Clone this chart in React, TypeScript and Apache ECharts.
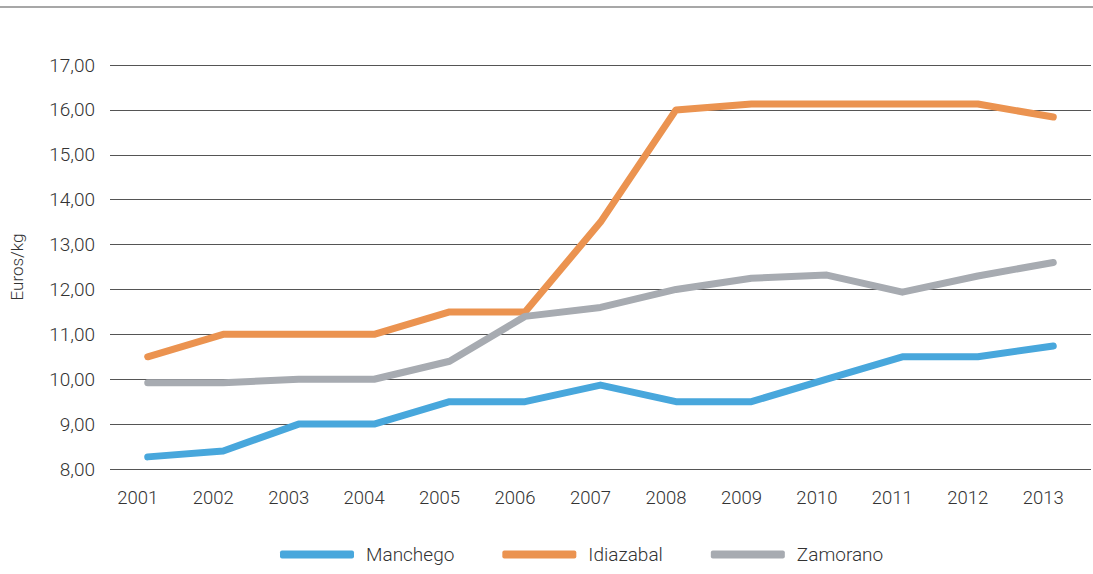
import React, { useEffect, useRef } from "react";
import * as echarts from "echarts";

const years = ["2001","2002","2003","2004","2005","2006","2007","2008","2009","2010","2011","2012","2013"];
const manchego = [8.27, 8.4, 9.0, 9.0, 9.5, 9.5, 9.87, 9.5, 9.5, 10.0, 10.5, 10.5, 10.74];
const idiazabal = [10.5, 11.0, 11.0, 11.0, 11.5, 11.5, 13.5, 16.0, 16.13, 16.13, 16.13, 16.13, 15.84];
const zamorano = [9.92, 9.92, 10.0, 10.0, 10.4, 11.4, 11.6, 12.0, 12.25, 12.32, 11.94, 12.3, 12.6];
const seriesNames = ["Manchego", "Idiazabal", "Zamorano"];
const colors = ["#48a7dc", "#eb9350", "#a7abb1"];

export default function App() {
  const ref = useRef<HTMLDivElement>(null);
  useEffect(() => {
    if (!ref.current) return;
    const chart = echarts.init(ref.current, null, { renderer: "svg" });
    const font = "Roboto, 'Liberation Sans', sans-serif";
    const dataSets = [manchego, idiazabal, zamorano];
    chart.setOption({
      animation: false,
      textStyle: { fontFamily: font },
      grid: { left: 108, right: 2, top: 65, bottom: 105, containLabel: false },
      graphic: [
        { type: "line", shape: { x1: 0, y1: 7, x2: 1093, y2: 7 }, style: { stroke: "#8a8a8a", lineWidth: 1.5 } },
      ],
      legend: {
        top: 540,
        left: 275,
        itemWidth: 74,
        itemHeight: 8,
        itemGap: 48,
        icon: "roundRect",
        textStyle: { fontSize: 19, fontWeight: 300, color: "#333", fontFamily: font, padding: [0, 0, 0, 7] },
        data: seriesNames,
      },
      xAxis: {
        type: "category",
        data: years,
        boundaryGap: true,
        axisLine: { show: false },
        axisTick: { show: false },
        axisLabel: { fontSize: 18.5, fontWeight: 300, color: "#333", margin: 19, padding: [0, 20, 0, 0], fontFamily: font },
      },
      yAxis: {
        type: "value",
        min: 8,
        max: 17,
        interval: 1,
        name: "Euros/kg",
        nameLocation: "middle",
        nameGap: 85,
        nameRotate: 90,
        nameTextStyle: { fontSize: 17, fontWeight: 300, color: "#333", fontFamily: font },
        axisLine: { show: false },
        axisTick: { show: false },
        axisLabel: {
          fontSize: 19,
          fontWeight: 300,
          color: "#333",
          margin: 15,
          fontFamily: font,
          formatter: (v: number) => v.toFixed(2).replace(".", ","),
        },
        splitLine: { lineStyle: { color: "#555", width: 1 } },
      },
      series: seriesNames.map((name, i) => ({
        name,
        type: "line",
        data: dataSets[i],
        symbol: "none",
        color: colors[i],
        lineStyle: { width: 7, color: colors[i], cap: "round", join: "round" },
      })),
    });
    return () => chart.dispose();
  }, []);
  return (
    <div
      ref={ref}
      style={{ position: "fixed", left: 0, top: 0, width: 1093, height: 574, background: "#fff" }}
    />
  );
}
